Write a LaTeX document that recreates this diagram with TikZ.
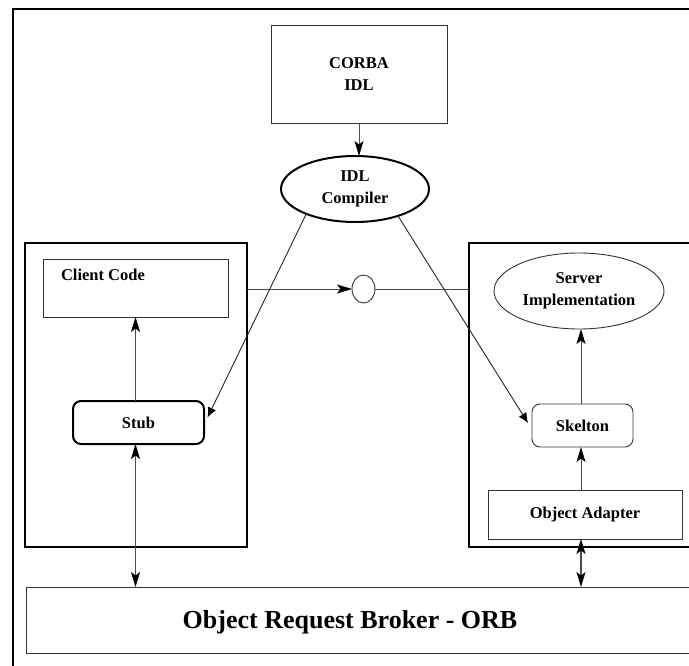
\documentclass[tikz,border=0pt]{standalone}
\usepackage{fontspec}
\setmainfont{Liberation Serif}
\usetikzlibrary{arrows.meta,shapes.geometric}
\begin{document}
\begin{tikzpicture}[x=1pt,y=-1pt,
  every node/.style={inner sep=0pt, outer sep=0pt},
  lbl/.style={font=\fontsize{16.5}{21.5}\selectfont\bfseries, align=center},
  thinbox/.style={rectangle, draw=black!80, line width=0.9pt, lbl},
  thickbox/.style={rectangle, draw=black, line width=2pt, lbl},
  oval/.style={ellipse, draw=black!80, line width=0.9pt, lbl},
  conn/.style={draw=black!70, line width=0.9pt},
  tipa/.tip={Stealth[length=15pt,width=9pt,inset=3.5pt,color=black]},
  arr/.style={conn, -tipa},
  darr/.style={conn, tipa-tipa},
  blob/.style={conn, draw=black!85, -{Latex[length=10pt,width=9pt,color=black]}}
]
\useasboundingbox (0,0) rectangle (689,666);
\fill[white] (0,0) rectangle (689,666);
\clip (0,0) rectangle (689,666);

% outer frame (cut at right and bottom)
\node[rectangle, draw, line width=2.5pt, minimum width=720pt, minimum height=720pt, anchor=north west] (frame) at (13,9) {};

% top
\node[thinbox, minimum width=176pt, minimum height=98pt] (corba) at (359,74) {CORBA\\IDL};
\node[oval, draw=black, line width=2pt, minimum width=148pt, minimum height=66pt] (idlc) at (355,189) {IDL\\Compiler};

% client side
\node[thickbox, minimum width=222pt, minimum height=304pt] (client) at (136,395) {};
\node[thinbox, minimum width=185pt, minimum height=58pt,
      label={[lbl, anchor=west, xshift=18pt, yshift=-16pt]north west:Client Code}] (cc) at (135.5,288) {};
\node[thickbox, rounded corners=8pt, minimum width=131pt, minimum height=43pt] (stub) at (138.5,422.5) {Stub};

% server side
\node[thickbox, minimum width=320pt, minimum height=304pt, anchor=west] (server) at (469,395) {};
\node[oval, minimum width=170pt, minimum height=76pt] (srvimpl) at (579,291) {Server\\Implementation};
\node[thinbox, rounded corners=8pt, minimum width=101pt, minimum height=43pt] (skel) at (582.5,425.5) {Skelton};
\node[thinbox, minimum width=194pt, minimum height=49pt] (oa) at (585,514.5) {Object Adapter};

% interface
\node[ellipse, draw=black!80, line width=0.9pt, minimum width=23pt, minimum height=28pt] (iface) at (363.5,289) {};

% ORB
\node[thinbox, minimum width=720pt, minimum height=66pt, anchor=west] (orb) at (26,620) {};
\node[font=\fontsize{26}{30}\selectfont\bfseries] (orbtext) at (350,622) {Object Request Broker - ORB};

% connectors
\draw[arr] (corba.south) -- (corba.south |- idlc.north);
\draw[arr] (client.east |- iface.west) -- (iface.west);
\draw[conn] (iface.east) -- (iface.east -| server.west);
\draw[arr] (cc.south |- stub.north) -- (cc.south);
\draw[darr] (cc.south |- stub.south) -- (cc.south |- orb.north);
\draw[blob] (idlc.207.5) -- ([xshift=3.5pt, yshift=5pt]stub.east);
\draw[blob] (idlc.328.6) -- ([xshift=-4pt, yshift=2.5pt]skel.west);
\draw[arr] ([xshift=-1.5pt]skel.north) -- ([xshift=-1.5pt]skel.north |- srvimpl.south);
\draw[arr] ([xshift=-1.5pt]skel.south |- oa.north) -- ([xshift=-1.5pt]skel.south);
\draw[darr, line width=1.4pt] ([xshift=-1.5pt]skel.south |- oa.south) -- ([xshift=-1.5pt]skel.south |- orb.north);
\end{tikzpicture}
\end{document}
